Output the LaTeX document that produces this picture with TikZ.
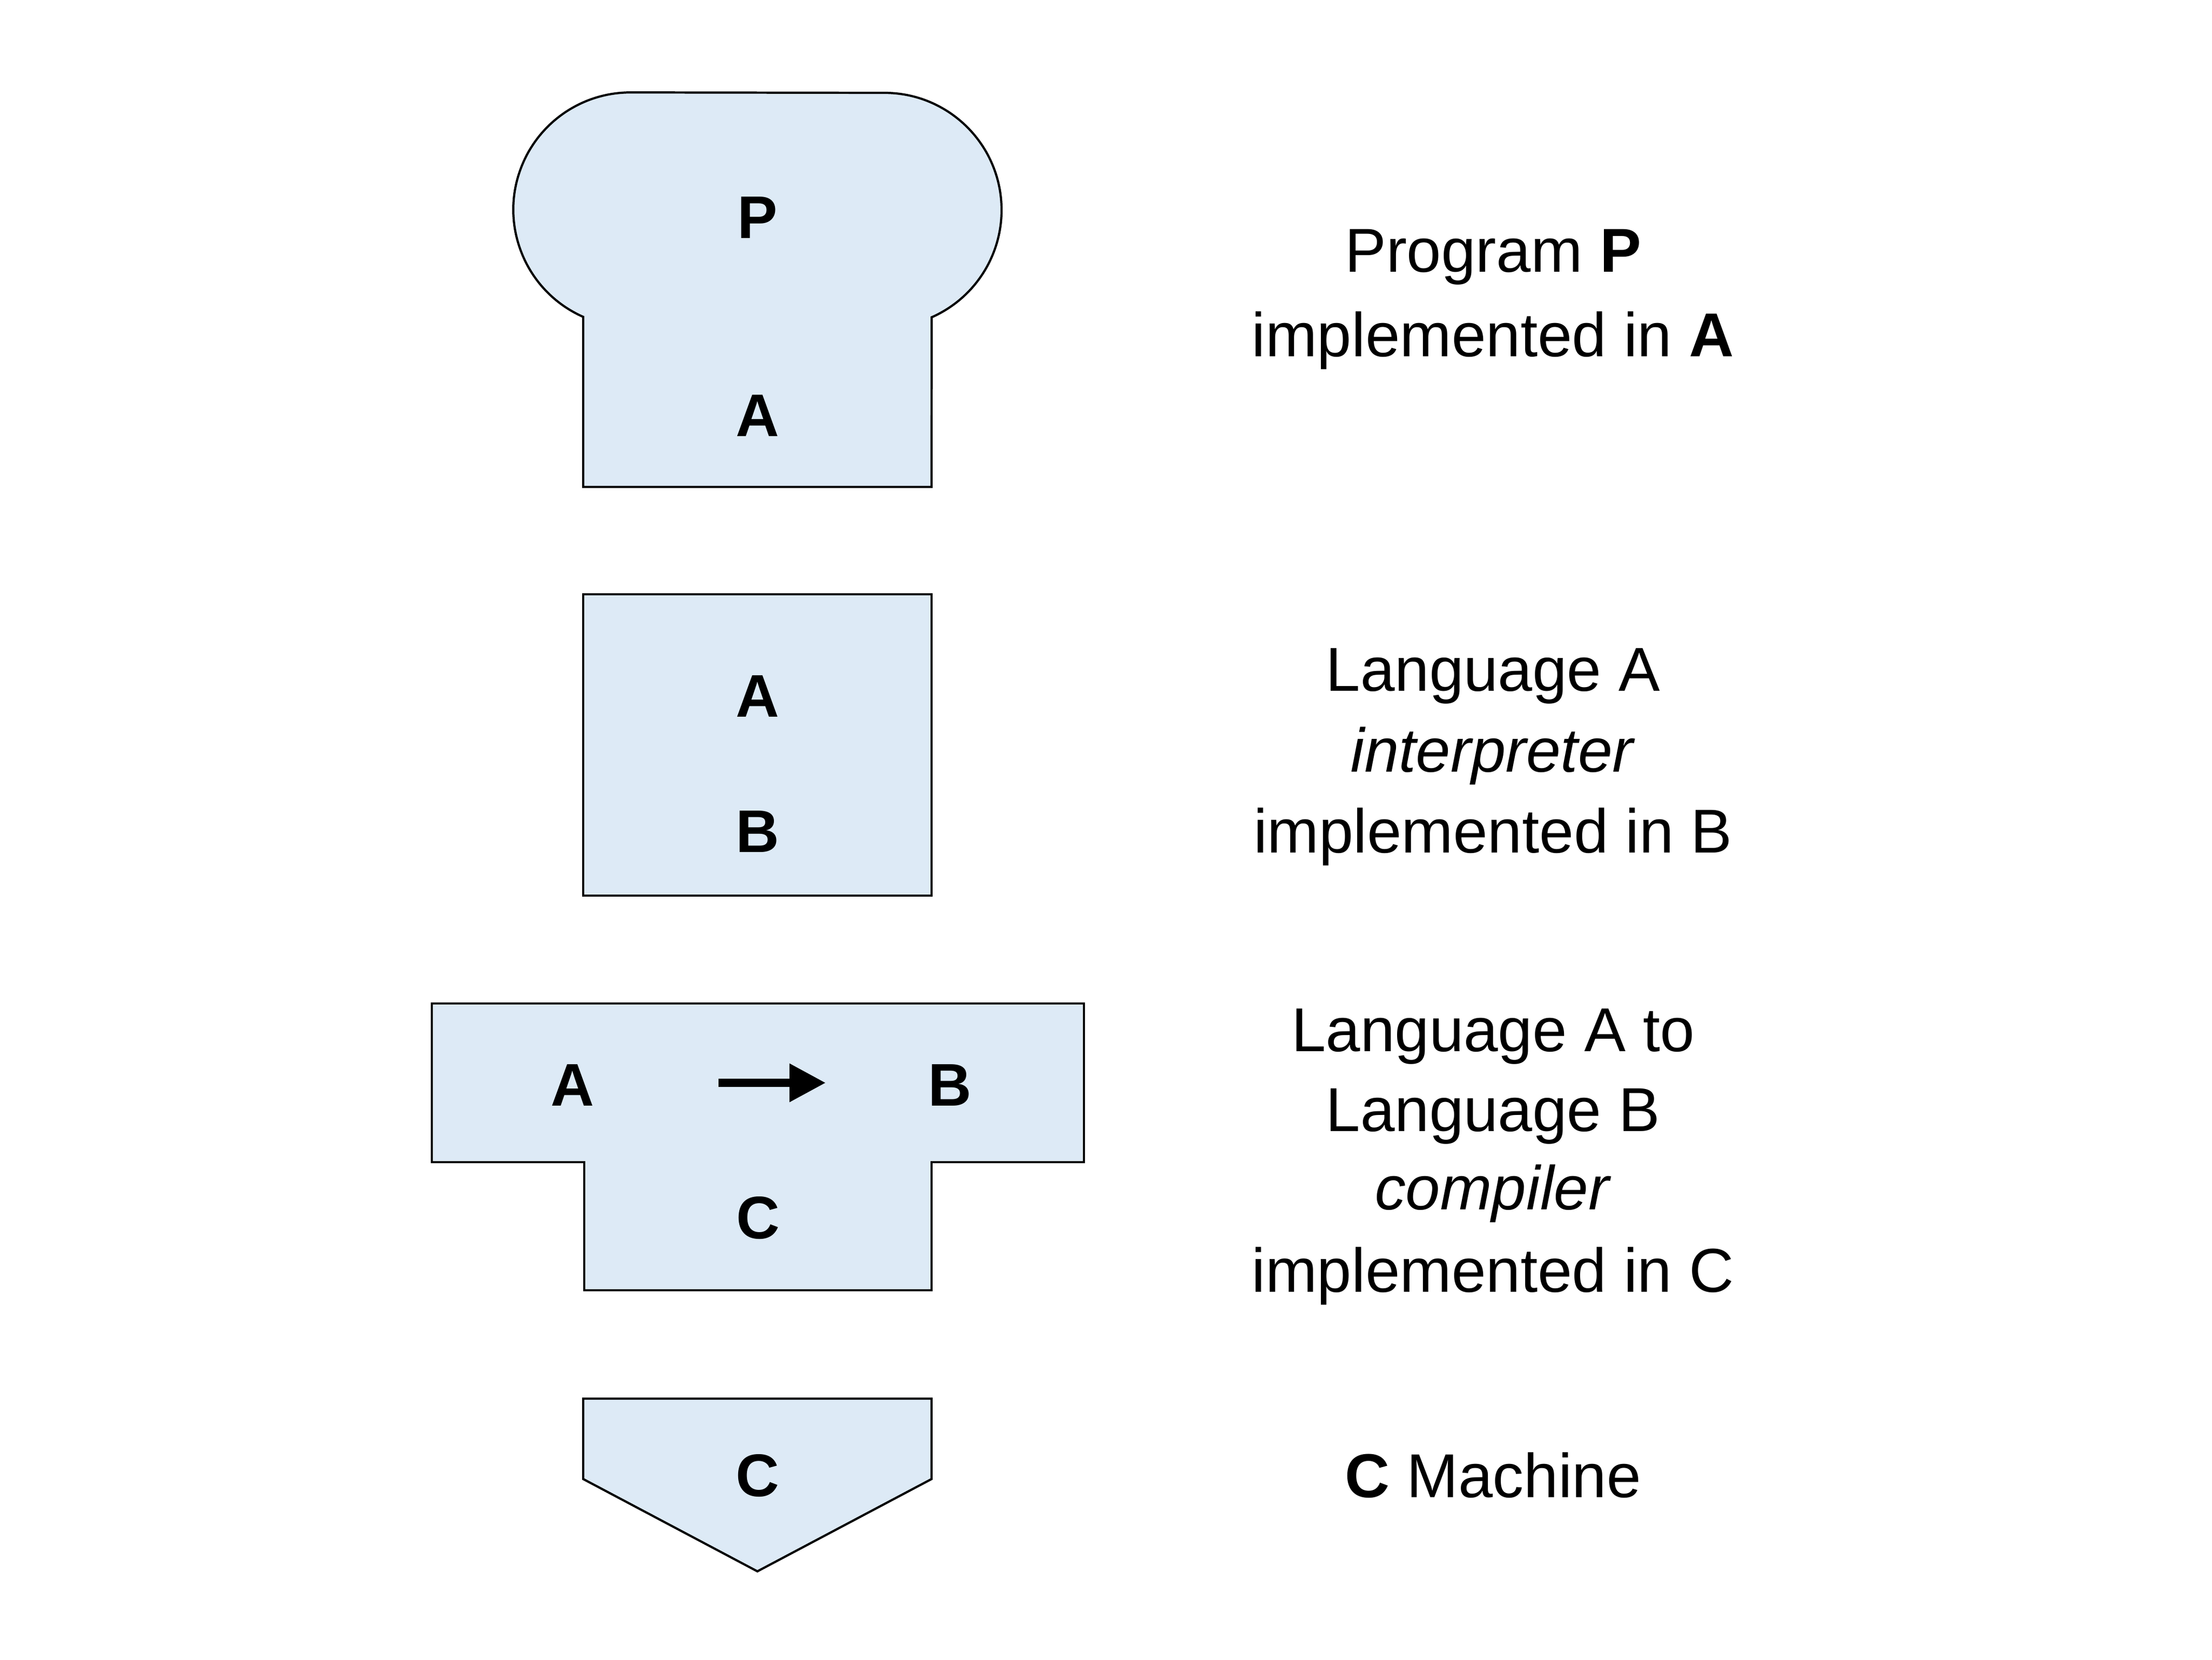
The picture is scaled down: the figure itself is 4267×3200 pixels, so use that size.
\documentclass[tikz,border=0pt]{standalone}
\usepackage{fontspec}
\setmainfont{Liberation Sans}
\usetikzlibrary{arrows.meta}
\definecolor{boxfill}{HTML}{DDEAF6}
\begin{document}
\begin{tikzpicture}[x=0.01cm,y=0.01cm,
  shapebox/.style={draw=black,fill=boxfill,line width=1.2pt,line join=miter},
  boxlbl/.style={font=\fontsize{33}{40}\selectfont\bfseries,inner sep=0pt,anchor=base},
  desc/.style={font=\fontsize{34}{41}\selectfont,inner sep=0pt,anchor=base},
  arrowline/.style={line width=4.5pt,-{Triangle[length=0.7cm,width=0.7cm]}}]
\useasboundingbox (0,0) rectangle (4267,-3200);

% Program P implemented in A
\draw[shapebox] (1125,-611) arc[start angle=246.2,end angle=90,radius=226]
  -- (1706,-179) arc[start angle=90,end angle=-66.2,radius=226]
  -- (1797,-939) -- (1125,-939) -- cycle;
\node[boxlbl] (p1) at (1461,-459) {P};
\node[boxlbl] (a1) at (1461,-841) {A};

% Interpreter
\draw[shapebox] (1125,-1146) rectangle (1797,-1727);
\node[boxlbl] (a2) at (1461,-1382) {A};
\node[boxlbl] (b2) at (1461,-1643) {B};

% Compiler T
\draw[shapebox] (833,-1935) -- (2091,-1935) -- (2091,-2241) -- (1797,-2241)
  -- (1797,-2488) -- (1127,-2488) -- (1127,-2241) -- (833,-2241) -- cycle;
\node[boxlbl] (a3) at (1104,-2132) {A};
\node[boxlbl] (b3) at (1832,-2132) {B};
\node[boxlbl] (c3) at (1462,-2388) {C};
\coordinate (arrS) at (1386,-2088);
\coordinate (arrE) at (1593,-2088);
\draw[arrowline] (arrS) -- (arrE);

% Machine
\draw[shapebox] (1125,-2697) -- (1797,-2697) -- (1797,-2852) -- (1461,-3030)
  -- (1125,-2852) -- cycle;
\node[boxlbl] (c4) at (1461,-2885) {C};

% Descriptions
\node[desc] (t1a) at (2880,-524) {Program \textbf{P}};
\node[desc] (t1b) at (2880,-687) {implemented in \textbf{A}};
\node[desc] (t2a) at (2880,-1332) {Language A};
\node[desc] (t2b) at (2880,-1488) {\textit{interpreter}};
\node[desc] (t2c) at (2880,-1644) {implemented in B};
\node[desc] (t3a) at (2880,-2027) {Language A to};
\node[desc] (t3b) at (2880,-2181) {Language B};
\node[desc] (t3c) at (2880,-2332) {\textit{compiler}};
\node[desc] (t3d) at (2880,-2491) {implemented in C};
\node[desc] (t4) at (2880,-2887) {\textbf{C} Machine};
\end{tikzpicture}
\end{document}
